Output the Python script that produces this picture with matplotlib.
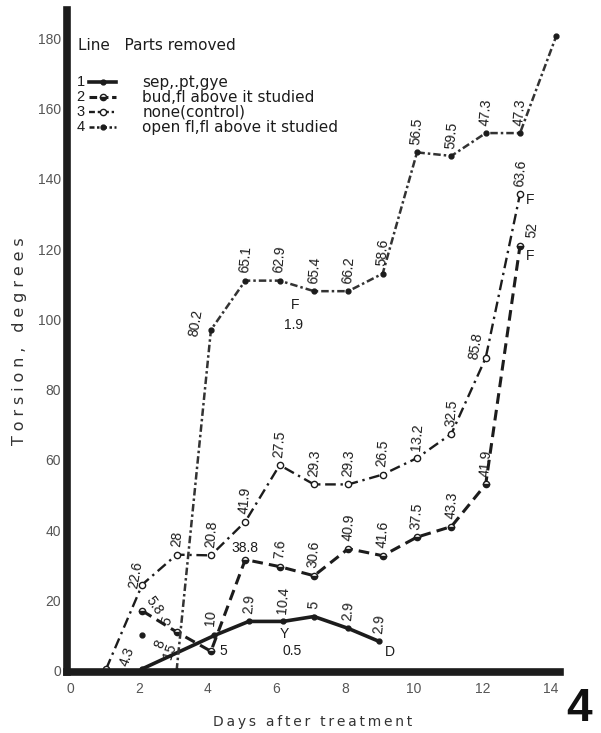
import matplotlib.pyplot as plt
from matplotlib.lines import Line2D

plt.rcParams['font.family'] = ['Liberation Sans', 'DejaVu Sans']

# line 1: sep,.pt,gye removed
l1_x = [2.1, 4.2, 5.2, 6.2, 7.1, 8.1, 9.0]
l1_y = [0.5, 10, 14, 14, 15.4, 12, 8.3]
l1_lab = ['4.3', '10', '2.9', '10.4', '5', '2.9', '2.9']

# line 2: bud, fl above it studied
l2_x = [2.1, 3.1, 4.1, 5.1, 6.1, 7.1, 8.1, 9.1, 10.1, 11.1, 12.1, 13.1]
l2_y = [17, 11, 5.5, 31.6, 29.6, 27, 34.7, 32.7, 38, 41, 53, 121]
l2_lab = ['5.8', '5', '5', '38.8', '7.6', '30.6', '40.9', '41.6', '37.5', '43.3', '41.9', '52']

# line 3: none (control)
l3_x = [1.05, 2.1, 3.1, 4.1, 5.1, 6.1, 7.1, 8.1, 9.1, 10.1, 11.1, 12.1, 13.1]
l3_y = [0.5, 24.5, 33, 32.8, 42.4, 58.5, 53, 53, 55.8, 60.5, 67.4, 89, 135.7]
l3_lab = ['', '22.6', '28', '20.8', '41.9', '27.5', '29.3', '29.3', '26.5', '13.2', '32.5', '85.8', '63.6']

# line 4: open fl, fl above it studied
l4_x = [3.1, 4.1, 5.1, 6.1, 7.1, 8.1, 9.1, 10.1, 11.1, 12.1, 13.1, 14.15]
l4_y = [0, 97, 111, 111, 108, 108, 113, 147.5, 146.5, 153, 153, 180.5]
l4_lab = ['', '80.2', '65.1', '62.9', '65.4', '66.2', '58.6', '56.5', '59.5', '47.3', '47.3', '']

# loose point near day 2
lone_x = [2.1]
lone_y = [10]

legend_names = ['sep,.pt,gye', 'bud,fl above it studied', 'none(control)',
                'open fl,fl above it studied']

# extra notes: (x, y, text, rotation)
notes = [(2.62, 7.5, '8', 70), (2.9, 5.5, '15', 70),
         (6.55, 104, 'F', 0), (6.5, 98.5, '1.9', 0),
         (6.25, 10.5, 'Y', 0), (6.45, 5.5, '0.5', 0),
         (9.3, 5.2, 'D', 0), (13.4, 134, 'F', 0), (13.4, 118, 'F', 0)]

ink = '#1c1c1c'
lab_fs = 10

fig = plt.figure(figsize=(6.01, 7.33), dpi=100)
ax = fig.add_axes([0.111, 0.0832, 0.82, 0.903])

ax.plot(l1_x, l1_y, color=ink, lw=2.6, marker='o', ms=3.5, mfc=ink, mec=ink)
ax.plot(l2_x, l2_y, color=ink, lw=2.2, dashes=(3.5, 2), marker='o', ms=4.5,
        mfc=ink, mec=ink, fillstyle='bottom', markerfacecoloralt='white')
ax.plot(l3_x, l3_y, color=ink, lw=1.7, dashes=(4.5, 2, 1, 2), marker='o', ms=4.5,
        mfc='white', mec=ink)
ax.plot(l4_x, l4_y, color='#333333', lw=1.8, dashes=(3, 1.2, 1, 1.2), marker='o', ms=3.5,
        mfc=ink, mec=ink)
ax.plot(lone_x, lone_y, 'o', color=ink, ms=3.5)

# value labels above points
def put_labels(xs, ys, labs, tweaks):
    for i, (x, y, t) in enumerate(zip(xs, ys, labs)):
        if not t:
            continue
        dx, dy, rot, ha, va = tweaks.get(i, (0, 2.0, 85, 'center', 'bottom'))
        ax.text(x + dx, y + dy, t, rotation=rot, ha=ha, va=va, fontsize=lab_fs,
                color=ink, rotation_mode='anchor' if rot not in (85, 0) else 'default')

put_labels(l1_x, l1_y, l1_lab, {0: (-0.45, 3.5, 70, 'center', 'center'),
                                1: (-0.1, 2.5, 85, 'center', 'bottom')})
put_labels(l2_x, l2_y, l2_lab, {0: (0.35, 1.5, -55, 'center', 'center'),
                                1: (-0.1, 2.5, 70, 'center', 'bottom'),
                                2: (0.35, 0, 0, 'center', 'center'),
                                3: (0.0, 1.2, 0, 'center', 'bottom'),
                                11: (0.12, 2, 85, 'left', 'bottom')})
put_labels(l3_x, l3_y, l3_lab, {1: (0.0, 2.5, 80, 'center', 'bottom'),
                                11: (-0.1, 3, 80, 'center', 'bottom')})
put_labels(l4_x, l4_y, l4_lab, {1: (-0.25, 1.5, 80, 'center', 'bottom')})

for x, y, t, r in notes:
    ax.text(x, y, t, rotation=r, ha='center', va='center', fontsize=lab_fs, color=ink)

ax.set_xlim(-0.1, 14.25)
ax.set_ylim(-0.4, 188)
ax.set_xticks(range(0, 15, 2))
ax.set_yticks(range(0, 181, 20))
ax.tick_params(length=0, labelsize=10, labelcolor='#555555')
ax.tick_params(axis='x', pad=7)
ax.tick_params(axis='y', pad=4)
for s in ['top', 'right']:
    ax.spines[s].set_visible(False)
for s in ['left', 'bottom']:
    ax.spines[s].set_linewidth(5.5)
    ax.spines[s].set_color(ink)

ts = '\u2009'
ax.set_xlabel(ts.join('Days after treatment'), fontsize=10, color='#333333',
              family=['DejaVu Sans'], labelpad=14)
ax.set_ylabel((ts + '\u200a').join('Torsion, degrees'), fontsize=11.5, color='#333333',
              family=['DejaVu Sans'], labelpad=8)

# legend
handles = [
    Line2D([], [], color=ink, lw=2.6, marker='o', ms=3.5),
    Line2D([], [], color=ink, lw=2.2, dashes=(2.5, 1.2), marker='o', ms=4.5,
           fillstyle='bottom', markerfacecoloralt='white'),
    Line2D([], [], color=ink, lw=1.7, dashes=(2.5, 1.2, 1, 1.2), marker='o', ms=4.5,
           mfc='white'),
    Line2D([], [], color=ink, lw=1.8, dashes=(2, 1, 1, 1), marker='o', ms=3.5),
]
leg = ax.legend(handles, legend_names, loc='upper left', bbox_to_anchor=(0.045, 0.902),
                frameon=False, prop={'family': 'DejaVu Sans', 'size': 11},
                handlelength=1.8, handletextpad=1.7,
                labelspacing=0.0, borderpad=0, borderaxespad=0)
for txt in leg.get_texts():
    txt.set_color(ink)

ax.text(0.022, 0.947, 'Line   Parts removed', transform=ax.transAxes, ha='left',
        va='center', fontsize=11, family=['DejaVu Sans'], color=ink)

fig.canvas.draw()
for k, txt in enumerate(leg.get_texts()):
    bb = txt.get_window_extent().transformed(ax.transAxes.inverted())
    ax.text(0.028, (bb.y0 + bb.y1) / 2, str(k + 1), transform=ax.transAxes,
            ha='center', va='center', fontsize=10.5, color=ink)

fig.text(0.985, 0.016, '4', fontsize=33, fontweight='bold', ha='right', va='baseline',
         color='#111111')

fig.savefig('out.png', dpi=100)
